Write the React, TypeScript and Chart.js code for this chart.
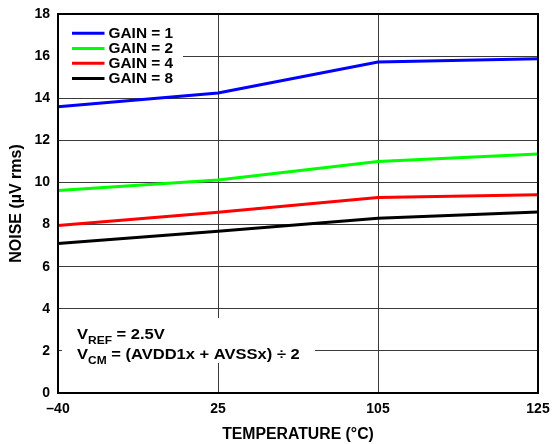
import React, { useEffect, useRef } from "react";
import { Chart, registerables } from "chart.js";

Chart.register(...registerables);

const categories = ["\u201340", "25", "105", "125"];
const gain1 = [13.6, 14.25, 15.72, 15.88];
const gain2 = [9.62, 10.12, 11.0, 11.35];
const gain4 = [7.95, 8.58, 9.28, 9.42];
const gain8 = [7.1, 7.68, 8.3, 8.6];
const seriesLabels = ["GAIN = 1", "GAIN = 2", "GAIN = 4", "GAIN = 8"];
const seriesColors = ["#0000ff", "#00ff00", "#ff0000", "#000000"];
const yTicks = [0, 2, 4, 6, 8, 10, 12, 14, 16, 18];

const FONT = "'Liberation Sans', Arial, Helvetica, sans-serif";

function stretchText(ctx: any, text: string, x: number, y: number, sx: number) {
  ctx.save();
  ctx.translate(x, y);
  ctx.scale(sx, 1);
  ctx.fillText(text, 0, 0);
  ctx.restore();
  return ctx.measureText(text).width * sx;
}

const decorPlugin = {
  id: "decor",
  afterDraw(chart: any) {
    const { ctx, chartArea } = chart;
    const { left, top, right, bottom } = chartArea;
    ctx.save();
    // legend box
    ctx.fillStyle = "#ffffff";
    ctx.fillRect(left + 1, top + 6, 124, 72);
    const rows = [33.3, 48.6, 63.2, 78.6];
    chart.data.datasets.forEach((ds: any, i: number) => {
      const y = rows[i];
      ctx.strokeStyle = ds.borderColor;
      ctx.lineWidth = 3;
      ctx.beginPath();
      ctx.moveTo(left + 14, y);
      ctx.lineTo(left + 46.5, y);
      ctx.stroke();
      ctx.fillStyle = "#000";
      ctx.font = `bold 14px ${FONT}`;
      ctx.textBaseline = "middle";
      ctx.textAlign = "left";
      stretchText(ctx, ds.label, left + 50.5, y + 0.5, 1.1);
    });
    // annotation box
    ctx.fillStyle = "#ffffff";
    ctx.fillRect(left + 4, 318, 253, 45);
    ctx.fillStyle = "#000";
    ctx.textBaseline = "alphabetic";
    ctx.textAlign = "left";
    const SX = 1.14;
    const drawSub = (x: number, y: number, main1: string, sub: string, rest: string) => {
      ctx.font = `bold 14.5px ${FONT}`;
      let cx = x + stretchText(ctx, main1, x, y, SX);
      ctx.font = `bold 10.5px ${FONT}`;
      cx += stretchText(ctx, sub, cx, y + 4.5, SX);
      ctx.font = `bold 14.5px ${FONT}`;
      stretchText(ctx, rest, cx, y, SX);
    };
    drawSub(left + 19, 339, "V", "REF", " = 2.5V");
    drawSub(left + 19, 359, "V", "CM", " = (AVDD1x + AVSSx) \u00f7 2");
    // border
    ctx.strokeStyle = "#000";
    ctx.lineWidth = 2;
    ctx.strokeRect(left, top, right - left, bottom - top);
    ctx.restore();
  },
};

export default function App() {
  const ref = useRef<HTMLCanvasElement | null>(null);
  useEffect(() => {
    if (!ref.current) return;
    const data = [gain1, gain2, gain4, gain8];
    const chart = new Chart(ref.current, {
      type: "line",
      data: {
        labels: categories,
        datasets: data.map((d, i) => ({
          label: seriesLabels[i],
          data: d,
          borderColor: seriesColors[i],
          backgroundColor: seriesColors[i],
          borderWidth: 3,
          pointRadius: 0,
          tension: 0,
          fill: false,
        })),
      },
      options: {
        responsive: false,
        animation: false,
        devicePixelRatio: 1,
        layout: { padding: { top: 14, right: 18, left: 0, bottom: 0 } },
        plugins: { legend: { display: false }, tooltip: { enabled: false } },
        scales: {
          x: {
            type: "category",
            offset: false,
            grid: { color: "#3a3a3a", lineWidth: 1, drawTicks: false },
            border: { display: false },
            ticks: {
              color: "#000",
              padding: 8,
              maxRotation: 0,
              autoSkip: false,
              font: { family: FONT, size: 14, weight: "bold" },
            },
            title: {
              display: true,
              text: "TEMPERATURE (\u00b0C)",
              color: "#000",
              font: { family: FONT, size: 15.8, weight: "bold" },
              padding: { top: 0, bottom: 0 },
            },
            afterFit: (s: any) => {
              s.height = 51;
              s.paddingLeft = 0;
              s.paddingRight = 0;
            },
          },
          y: {
            min: 0,
            max: 18,
            grid: { color: "#3a3a3a", lineWidth: 1, drawTicks: false },
            border: { display: false },
            afterBuildTicks: (s: any) => {
              s.ticks = yTicks.map((v) => ({ value: v }));
            },
            ticks: {
              color: "#000",
              padding: 8,
              font: { family: FONT, size: 14, weight: "bold" },
            },
            title: {
              display: true,
              text: "NOISE (\u00b5V rms)",
              color: "#000",
              font: { family: FONT, size: 16, weight: "bold" },
              padding: { top: 7, bottom: 0 },
            },
            afterFit: (s: any) => {
              s.width = 58;
              s.paddingTop = 0;
              s.paddingBottom = 0;
            },
          },
        },
      },
      plugins: [decorPlugin],
    });
    return () => chart.destroy();
  }, []);
  return (
    <div style={{ position: "fixed", left: 0, top: 0, width: 556, height: 444, background: "#fff" }}>
      <canvas ref={ref} width={556} height={444} />
    </div>
  );
}
